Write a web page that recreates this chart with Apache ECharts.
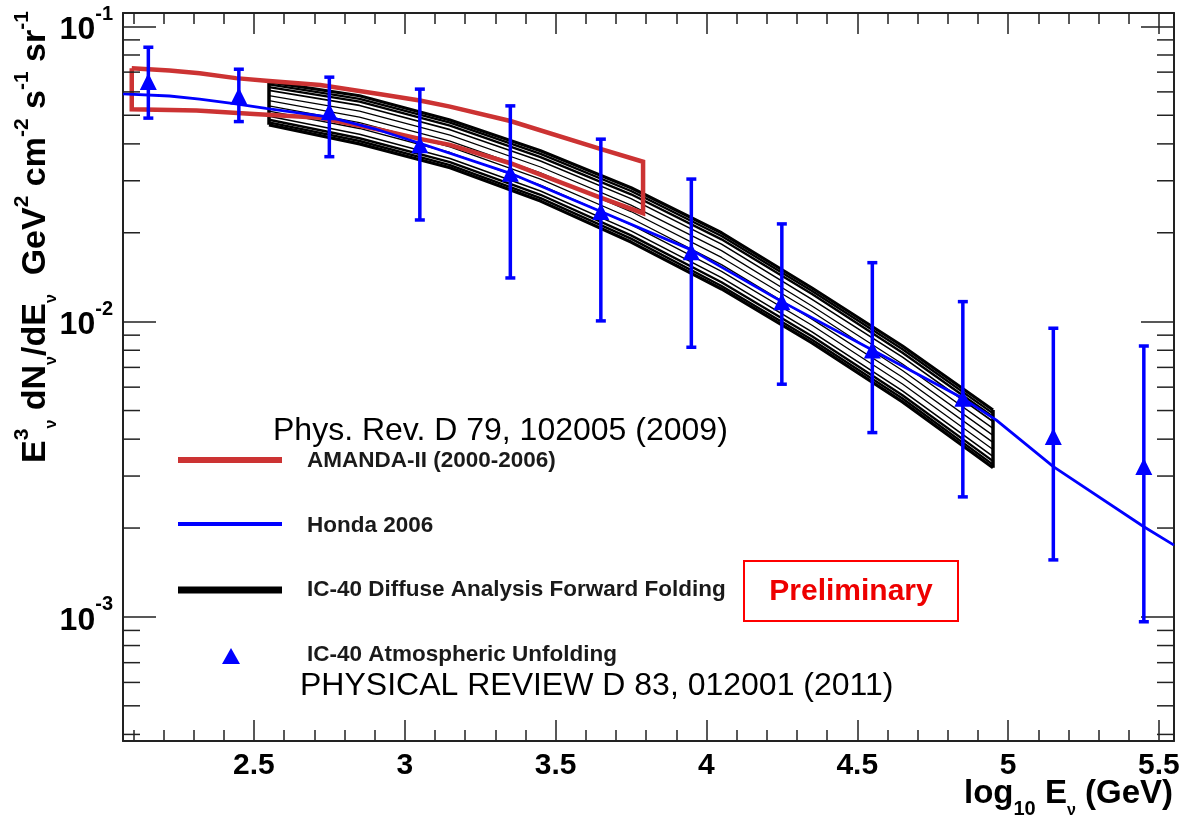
<!DOCTYPE html>
<html><head><meta charset="utf-8">
<script src="https://cdn.jsdelivr.net/npm/echarts@6/dist/echarts.min.js"></script>
<style>html,body{margin:0;padding:0;background:#fff}#c{width:1192px;height:822px}</style>
</head><body><div id="c"></div>
<script>
// ---------- axis ranges / tick labels ----------
const X_MIN = 2.066, X_MAX = 5.55;
const Y_MIN = 3.8e-4, Y_MAX = 0.111;
const X_TICK_LABELS = ['2.5', '3', '3.5', '4', '4.5', '5', '5.5'];
const Y_DECADES = [-3, -2, -1];

// ---------- IC-40 Atmospheric Unfolding (points with error bars) ----------
const UNF_X  = [2.15, 2.45, 2.75, 3.05, 3.35, 3.65, 3.95, 4.25, 4.55, 4.85, 5.15, 5.45];
const UNF_Y  = [0.0650, 0.0581, 0.0514, 0.0397, 0.0318, 0.0236, 0.01726, 0.01169, 0.00802, 0.0055, 0.00408, 0.00323];
const UNF_HI = [0.0850, 0.0716, 0.0673, 0.0613, 0.0538, 0.0415, 0.0304, 0.02143, 0.01584, 0.01169, 0.0095, 0.00827];
const UNF_LO = [0.0489, 0.0476, 0.0362, 0.0221, 0.01406, 0.01006, 0.00819, 0.00614, 0.00421, 0.00255, 0.00156, 0.000963];

// ---------- Honda 2006 ----------
const HONDA_X = [2.066, 2.22, 2.32, 2.44, 2.54, 2.75, 2.9, 3.05, 3.35, 3.65, 3.95, 4.25, 4.55, 4.85, 4.96, 5.15, 5.45, 5.55];
const HONDA_Y = [0.0591, 0.0581, 0.0567, 0.0546, 0.0528, 0.0493, 0.0450, 0.0402, 0.0318, 0.0236, 0.0175, 0.01169, 0.00802, 0.0055, 0.00465, 0.00323, 0.00202, 0.00175];

// ---------- AMANDA-II (2000-2006) band outline ----------
const AMANDA_UP_X = [2.095, 2.22, 2.32, 2.44, 2.54, 2.72, 2.92, 3.05, 3.15, 3.35, 3.64, 3.79];
const AMANDA_UP_Y = [0.0722, 0.0709, 0.0694, 0.0668, 0.0655, 0.0633, 0.0589, 0.0561, 0.0535, 0.0478, 0.0387, 0.0348];
const AMANDA_LO_X = [2.095, 2.31, 2.50, 2.72, 2.92, 3.05, 3.15, 3.35, 3.64, 3.79];
const AMANDA_LO_Y = [0.0524, 0.0519, 0.0505, 0.0490, 0.0446, 0.0416, 0.0397, 0.0344, 0.0265, 0.0233];

// ---------- IC-40 Diffuse Analysis Forward Folding (family of curves) ----------
const BAND_X = [2.55, 2.85, 3.15, 3.45, 3.75, 4.05, 4.35, 4.65, 4.95];
const BAND_CURVES = [
  [0.0649, 0.0582, 0.0482, 0.0379, 0.0284, 0.0200, 0.0130, 0.00827, 0.00502],
  [0.0636, 0.0568, 0.0472, 0.0370, 0.0277, 0.0195, 0.0127, 0.00806, 0.00489],
  [0.0623, 0.0556, 0.0461, 0.0361, 0.0270, 0.0190, 0.0124, 0.00785, 0.00476],
  [0.0607, 0.0540, 0.0447, 0.0350, 0.0261, 0.0183, 0.0119, 0.00758, 0.00459],
  [0.0583, 0.0516, 0.0428, 0.0334, 0.0248, 0.0174, 0.0113, 0.00719, 0.00435],
  [0.0560, 0.0493, 0.0409, 0.0319, 0.0236, 0.0165, 0.0108, 0.00683, 0.00412],
  [0.0538, 0.0472, 0.0391, 0.0304, 0.0224, 0.0156, 0.0102, 0.00648, 0.00390],
  [0.0516, 0.0451, 0.0374, 0.0290, 0.0213, 0.0148, 0.00972, 0.00615, 0.00369],
  [0.0496, 0.0431, 0.0357, 0.0277, 0.0203, 0.0141, 0.00923, 0.00583, 0.00350],
  [0.0483, 0.0418, 0.0347, 0.0269, 0.0196, 0.0136, 0.00892, 0.00563, 0.00337],
  [0.0473, 0.0409, 0.0339, 0.0262, 0.0191, 0.0132, 0.00869, 0.00549, 0.00328],
  [0.0464, 0.0400, 0.0332, 0.0256, 0.0186, 0.0129, 0.00847, 0.00535, 0.00320]
];
const BAND_WIDTHS = [3.2, 2.4, 2.4, 1.6, 1.3, 1.3, 1.3, 1.3, 1.6, 2.4, 2.4, 3.2];

// ---------- texts ----------
const LEGEND_LABELS = ['AMANDA-II (2000-2006)', 'Honda 2006', 'IC-40 Diffuse Analysis Forward Folding', 'IC-40 Atmospheric Unfolding'];
const REF_TOP = 'Phys. Rev. D 79, 102005 (2009)';
const REF_BOTTOM = 'PHYSICAL REVIEW D 83, 012001 (2011)';
const PRELIM = 'Preliminary';

const FONT = "'Liberation Sans', Arial, Helvetica, sans-serif";
const BLUE = '#0000ff', RED = '#cc3333', FRAME = '#222';

// ---------- build ----------
const zip = (xs, ys) => xs.map((x, i) => [x, ys[i]]);
const amandaLoop = zip(AMANDA_UP_X, AMANDA_UP_Y)
  .concat(zip(AMANDA_LO_X, AMANDA_LO_Y).reverse())
  .concat([[AMANDA_UP_X[0], AMANDA_UP_Y[0]]]);

const yMinor = [];
[-4, -3, -2].forEach(e => { for (let k = 2; k <= 9; k++) { const v = k * Math.pow(10, e); if (v > Y_MIN && v < Y_MAX) yMinor.push([X_MIN, v]); } });

const series = [];
BAND_CURVES.forEach((c, i) => {
  series.push({
    type: 'line', name: LEGEND_LABELS[2], data: zip(BAND_X, c), showSymbol: false, silent: true,
    lineStyle: { color: '#000', width: BAND_WIDTHS[i] }, z: 2
  });
});
const nB = BAND_CURVES.length - 1;
[0, BAND_X.length - 1].forEach(j => {
  series.push({
    type: 'line', data: [[BAND_X[j], BAND_CURVES[0][j]], [BAND_X[j], BAND_CURVES[nB][j]]],
    showSymbol: false, silent: true, lineStyle: { color: '#000', width: 3.5 }, z: 2
  });
});
series.push({
  type: 'line', name: LEGEND_LABELS[0], data: amandaLoop, showSymbol: false, silent: true,
  lineStyle: { color: RED, width: 4.5, join: 'miter' }, z: 3
});
series.push({
  type: 'line', name: LEGEND_LABELS[1], data: zip(HONDA_X, HONDA_Y), showSymbol: false, silent: true,
  lineStyle: { color: BLUE, width: 2.8 }, z: 4
});
series.push({
  type: 'custom', name: 'errors', data: UNF_X.map((x, i) => [x, UNF_LO[i], UNF_HI[i]]),
  encode: { x: 0, y: [1, 2] }, z: 5, silent: true,
  renderItem: (params, api) => {
    const x = api.value(0);
    const pH = api.coord([x, api.value(2)]), pL = api.coord([x, api.value(1)]);
    const cw = 5;
    const st = { stroke: BLUE, lineWidth: 3.5 };
    return { type: 'group', children: [
      { type: 'line', shape: { x1: pH[0], y1: pH[1], x2: pL[0], y2: pL[1] }, style: st },
      { type: 'line', shape: { x1: pH[0] - cw, y1: pH[1], x2: pH[0] + cw, y2: pH[1] }, style: { stroke: BLUE, lineWidth: 3.5 } },
      { type: 'line', shape: { x1: pL[0] - cw, y1: pL[1], x2: pL[0] + cw, y2: pL[1] }, style: { stroke: BLUE, lineWidth: 3.5 } }
    ]};
  }
});
series.push({
  type: 'scatter', name: LEGEND_LABELS[3], data: zip(UNF_X, UNF_Y), symbol: 'triangle', symbolSize: 17,
  itemStyle: { color: BLUE, opacity: 1 }, z: 6, silent: true
});
series.push({
  type: 'custom', name: 'yminor', data: yMinor, clip: false, silent: true, z: 7,
  renderItem: (params, api) => {
    const p = api.coord([api.value(0), api.value(1)]);
    const cs = params.coordSys;
    const st = { stroke: FRAME, lineWidth: 1.5 };
    return { type: 'group', children: [
      { type: 'line', shape: { x1: cs.x, y1: p[1], x2: cs.x + 17, y2: p[1] }, style: st },
      { type: 'line', shape: { x1: cs.x + cs.width - 17, y1: p[1], x2: cs.x + cs.width, y2: p[1] }, style: st }
    ]};
  }
});

const axisCommon = {
  axisLine: { show: true, onZero: false, lineStyle: { color: FRAME, width: 2 } },
  splitLine: { show: false }
};
const xAxisBase = Object.assign({}, axisCommon, {
  type: 'value', min: X_MIN, max: X_MAX, minInterval: 0.5, maxInterval: 0.5, splitNumber: 7,
  axisTick: { show: true, inside: true, length: 21, lineStyle: { color: FRAME, width: 1.5 } },
  minorTick: { show: true, splitNumber: 5, length: 11, lineStyle: { color: FRAME, width: 1.5 } }
});
const yAxisBase = Object.assign({}, axisCommon, {
  type: 'log', logBase: 10, min: Y_MIN, max: Y_MAX,
  axisTick: { show: true, inside: true, length: 33, lineStyle: { color: FRAME, width: 1.5 } },
  minorTick: { show: false }
});

const option = {
  animation: false,
  backgroundColor: '#fff',
  grid: { left: 123, right: 18, top: 13, bottom: 81, containLabel: false, outerBoundsMode: 'none' },
  xAxis: [
    Object.assign({}, xAxisBase, {
      position: 'bottom',
      axisLabel: {
        show: true, showMinLabel: false, showMaxLabel: false, margin: 10,
        fontFamily: FONT, fontWeight: 'bold', fontSize: 30, color: '#000',
        formatter: v => { const s = X_TICK_LABELS.find(t => Math.abs(parseFloat(t) - v) < 1e-6); return s || ''; }
      }
    }),
    Object.assign({}, xAxisBase, { position: 'top', axisLabel: { show: false } })
  ],
  yAxis: [
    Object.assign({}, yAxisBase, {
      position: 'left',
      axisLabel: {
        show: true, showMinLabel: false, showMaxLabel: false, margin: 10,
        fontFamily: FONT, color: '#000',
        formatter: v => {
          const e = Math.round(Math.log10(v));
          if (Y_DECADES.indexOf(e) < 0 || Math.abs(Math.log10(v) - e) > 1e-3) return '';
          return '{b|10}{s|' + e + '}';
        },
        rich: {
          b: { fontFamily: FONT, fontWeight: 'bold', fontSize: 32, lineHeight: 44, color: '#000', padding: [8, 0, 0, 0] },
          s: { fontFamily: FONT, fontWeight: 'bold', fontSize: 20, lineHeight: 20, verticalAlign: 'top', color: '#000' }
        }
      }
    }),
    Object.assign({}, yAxisBase, { position: 'right', axisLabel: { show: false } })
  ],
  series: series,
  graphic: [
    // y-axis title
    {
      type: 'text', x: 36, y: 237, rotation: Math.PI / 2, z: 10,
      style: {
        text: '{b|E}{sup|3}{sub|ν}{b| dN}{sub|ν}{b|/dE}{sub|ν}{b|  GeV}{sup|2}{b| cm}{sup|-2}{b| s}{sup|-1}{b| sr}{sup|-1}',
        align: 'center', verticalAlign: 'middle', fill: '#000',
        rich: {
          b: { fontFamily: FONT, fontWeight: 'bold', fontSize: 34, lineHeight: 48, fill: '#000' },
          sup: { fontFamily: FONT, fontWeight: 'bold', fontSize: 21, lineHeight: 22, verticalAlign: 'top', fill: '#000' },
          sub: { fontFamily: FONT, fontWeight: 'bold', fontSize: 16, lineHeight: 16, verticalAlign: 'bottom', fill: '#000' }
        }
      }
    },
    // x-axis title
    {
      type: 'text', x: 1173, y: 794, z: 10,
      style: {
        text: '{b|log}{sub|10}{b| E}{nu|ν}{b| (GeV)}',
        align: 'right', verticalAlign: 'middle', fill: '#000',
        rich: {
          b: { fontFamily: FONT, fontWeight: 'bold', fontSize: 33, lineHeight: 50, fill: '#000' },
          sub: { fontFamily: FONT, fontWeight: 'bold', fontSize: 20, lineHeight: 18, verticalAlign: 'bottom', fill: '#000' },
          nu: { fontFamily: FONT, fontWeight: 'bold', fontSize: 16, lineHeight: 26, verticalAlign: 'bottom', fill: '#000' }
        }
      }
    },
    // legend
    { type: 'line', shape: { x1: 178, y1: 460, x2: 282, y2: 460 }, style: { stroke: RED, lineWidth: 6 }, z: 10 },
    { type: 'line', shape: { x1: 178, y1: 524, x2: 282, y2: 524 }, style: { stroke: BLUE, lineWidth: 4 }, z: 10 },
    { type: 'line', shape: { x1: 178, y1: 590, x2: 282, y2: 590 }, style: { stroke: '#000', lineWidth: 7 }, z: 10 },
    { type: 'polygon', shape: { points: [[231, 648], [222, 664], [240, 664]] }, style: { fill: BLUE }, z: 10 },
    ...LEGEND_LABELS.map((t, i) => ({
      type: 'text', x: 307, y: [461, 526, 590, 655][i], z: 10,
      style: { text: t, fontFamily: FONT, fontWeight: 'bold', fontSize: 22.5, fill: '#1a1a1a', align: 'left', verticalAlign: 'middle' }
    })),
    // references
    { type: 'text', x: 273, y: 431, z: 10, style: { text: REF_TOP, fontFamily: FONT, fontSize: 32, fill: '#000', align: 'left', verticalAlign: 'middle' } },
    { type: 'text', x: 300, y: 686, z: 10, style: { text: REF_BOTTOM, fontFamily: FONT, fontSize: 32, fill: '#000', align: 'left', verticalAlign: 'middle' } },
    // preliminary box
    { type: 'rect', shape: { x: 744, y: 561, width: 214, height: 60 }, style: { fill: '#fff', stroke: '#ff0000', lineWidth: 2 }, z: 10 },
    { type: 'text', x: 851, y: 592, z: 11, style: { text: PRELIM, fontFamily: FONT, fontWeight: 'bold', fontSize: 30, fill: '#ee0000', align: 'center', verticalAlign: 'middle' } }
  ]
};

const chart = echarts.init(document.getElementById('c'), null, { renderer: 'canvas', width: 1192, height: 822 });
chart.setOption(option);
</script>
</body></html>
